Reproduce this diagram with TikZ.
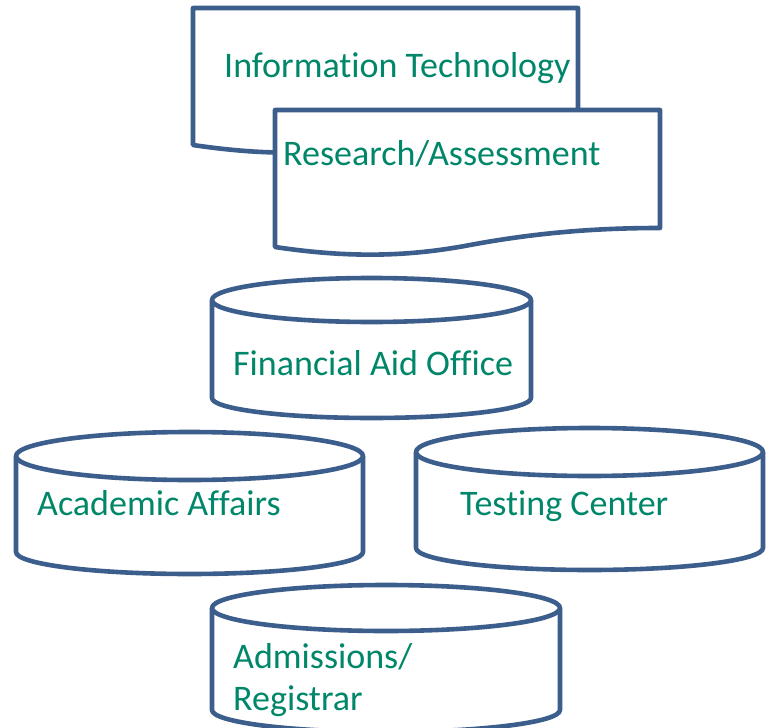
\documentclass[tikz,border=0pt]{standalone}
\usepackage{fontspec}
\setmainfont{Carlito}[Ligatures=NoCommon]
\definecolor{edge}{RGB}{60,94,140}
\definecolor{txt}{RGB}{0,135,105}
\tikzset{
  shp/.style={draw=edge, line width=4.6pt, fill=white, line join=round},
  lbl/.style={anchor=base west, inner sep=0pt, text=txt, font=\fontsize{36}{42}\selectfont}
}
\newcommand\dbcyl[6]{%
  \pgfmathsetmacro\cx{(#1+#2)/2}\pgfmathsetmacro\rx{(#2-#1)/2}%
  \draw[shp] (#1,-#3) -- (#1,-#5) arc[start angle=180,end angle=360,x radius=\rx,y radius=#6] -- (#2,-#3);
  \draw[shp] (\cx,-#3) ellipse[x radius=\rx, y radius=#4];
}
\begin{document}
\begin{tikzpicture}[x=1pt,y=1pt]
\useasboundingbox (0,0) rectangle (769,-728);
% Information Technology document
\draw[shp] (193,-8) -- (578,-8) -- (578,-126)
  .. controls (518,-126) and (458,-130) .. (388,-143)
  .. controls (320,-156) and (260,-155) .. (193,-145) -- cycle;
\node[lbl] (it) at (224,-77) {Information Technology};
% Research/Assessment document
\draw[shp] (275,-110) -- (660,-110) -- (660,-228)
  .. controls (600,-228) and (540,-232) .. (470,-245)
  .. controls (402,-258) and (342,-257) .. (275,-247) -- cycle;
\node[lbl] (ra) at (283,-165) {Research/Assessment};
% cylinders
\dbcyl{212}{531}{300}{22}{398}{20}
\node[lbl] (fa) at (233,-375) {Financial Aid Office};
\dbcyl{16}{363}{456}{24}{552}{22}
\node[lbl] (aa) at (37,-515) {Academic Affairs};
\dbcyl{416}{763}{452}{24}{548}{22}
\node[lbl] (tc) at (460,-515) {Testing Center};
\dbcyl{212}{560}{608}{23}{710}{22}
\node[lbl] (ad) at (233,-668) {Admissions/};
\node[lbl] (rg) at (233,-710) {Registrar};
\end{tikzpicture}
\end{document}
